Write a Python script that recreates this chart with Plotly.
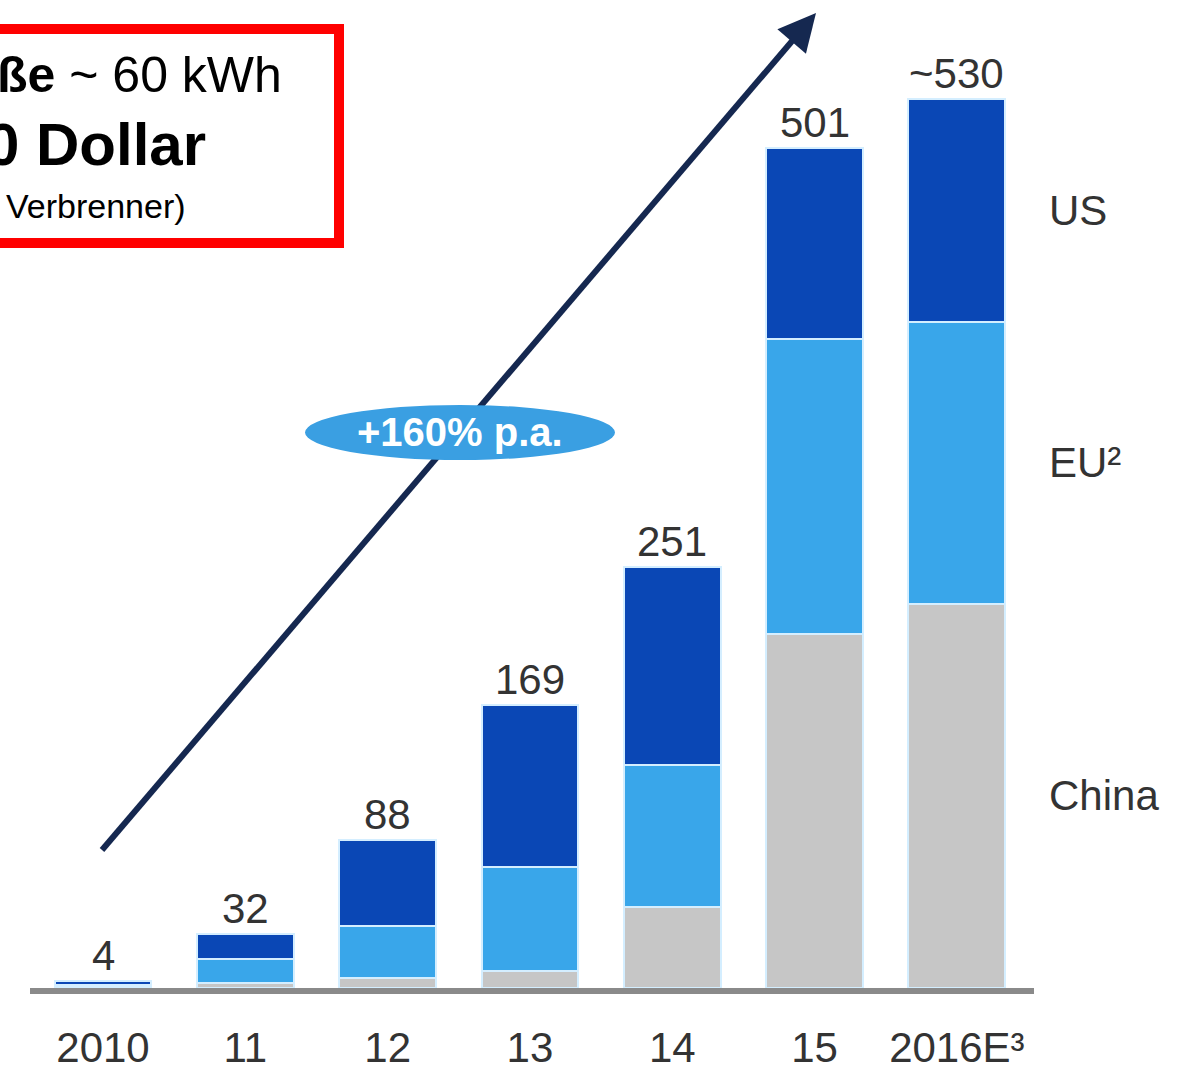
import plotly.graph_objects as go

categories = ["2010", "11", "12", "13", "14", "15", "2016E"]
tick_labels = ["2010", "11", "12", "13", "14", "15", "2016E³"]
china = [1, 3, 6, 10, 48, 211, 229]
eu = [1, 14, 31, 62, 85, 176, 168]
us = [2, 15, 51, 97, 118, 114, 133]
totals = [4, 32, 88, 169, 251, 501, 530]
total_labels = ["4", "32", "88", "169", "251", "501", "~530"]
series_names = ["China", "EU²", "US"]
growth_label = "+160% p.a."

FONT = "Liberation Sans, Arial, sans-serif"
C_US = "#0a47b5"
C_EU = "#39a6ea"
C_CN = "#c6c6c6"
SEP = "#d4eeff"
ARROW = "#152850"

# layout geometry (pixels)
ML, MR, MT, MB = 30, 151, 0, 84
W, H = 1185, 1072
PW, PH = W - ML - MR, H - MT - MB
XR = [-0.513, 6.542]
YR = [0, 589]


def px2x(px):
    return XR[0] + (px - ML) / PW * (XR[1] - XR[0])


def py2y(py):
    return YR[0] + (MT + PH - py) / PH * (YR[1] - YR[0])


idx = list(range(len(categories)))

fig = go.Figure()
for name, vals, col in [(series_names[0], china, C_CN), (series_names[1], eu, C_EU), (series_names[2], us, C_US)]:
    fig.add_trace(go.Bar(x=idx, y=vals, name=name, marker_color=col,
                         marker_line_color=SEP, marker_line_width=2))

# total labels above bars
for i, t, lab in zip(idx, totals, total_labels):
    fig.add_annotation(x=i, y=t, text=lab, showarrow=False, yanchor="bottom", yshift=0,
                       xanchor="center",
                       font=dict(size=42, color="#333333", family=FONT))

# series labels at right of last bar
last = len(categories) - 1
mids = [china[last] / 2, china[last] + eu[last] / 2, china[last] + eu[last] + us[last] / 2]
for name, m in zip(series_names, mids):
    fig.add_annotation(xref="paper", x=1.013, y=m, text=name, showarrow=False,
                       xanchor="left", yanchor="middle",
                       font=dict(size=42, color="#333333", family=FONT))

# growth arrow: shaft as a shape (below the ellipse), head as a short annotation arrow
tail = (102, 850)
tip = (816, 13)
dx, dy = tip[0] - tail[0], tip[1] - tail[1]
L = (dx ** 2 + dy ** 2) ** 0.5
hl = 30
base = (tip[0] - dx * hl / L, tip[1] - dy * hl / L)
fig.add_shape(type="line", xref="x", yref="y",
              x0=px2x(tail[0]), y0=py2y(tail[1]), x1=px2x(base[0] + dx * 4 / L), y1=py2y(base[1] + dy * 4 / L),
              line=dict(color=ARROW, width=6))
fig.add_annotation(x=px2x(tip[0]), y=py2y(tip[1]), ax=-dx * hl / L, ay=-dy * hl / L, text=" ",
                   showarrow=True, arrowhead=2, arrowsize=1.25, arrowwidth=6, arrowcolor=ARROW,
                   standoff=0, startstandoff=0)

# ellipse with growth label (drawn over the arrow shaft)
fig.add_shape(type="circle", xref="paper", yref="paper",
              x0=(305 - ML) / PW, x1=(615 - ML) / PW, y0=(988 - 460) / PH, y1=(988 - 405) / PH,
              fillcolor="#3a9fe2", line_width=0, layer="above")
fig.add_annotation(xref="paper", yref="paper", x=(460 - ML) / PW, y=(988 - 432) / PH,
                   text="<b>" + growth_label + "</b>",
                   showarrow=False, xanchor="center", yanchor="middle",
                   font=dict(size=40, color="white", family=FONT))

# red info box (partially cut off at the left)
fig.add_shape(type="rect", xref="paper", yref="paper",
              x0=(-20 - ML) / PW, x1=(339 - ML) / PW, y0=(988 - 243) / PH, y1=(988 - 29) / PH,
              line=dict(color="#ff0000", width=10), fillcolor="rgba(0,0,0,0)")
fig.add_annotation(xref="paper", yref="paper", x=(284 - ML) / PW, y=(988 - 75) / PH,
                   xanchor="right", yanchor="middle",
                   text="<b>ße</b> ~ 60 kWh", showarrow=False,
                   font=dict(size=50, color="#000000", family=FONT))
fig.add_annotation(xref="paper", yref="paper", x=(208 - ML) / PW, y=(988 - 145) / PH,
                   xanchor="right", yanchor="middle",
                   text="<b>0 Dollar</b>", showarrow=False,
                   font=dict(size=60, color="#000000", family=FONT))
fig.add_annotation(xref="paper", yref="paper", x=(188 - ML) / PW, y=(988 - 206) / PH,
                   xanchor="right", yanchor="middle",
                   text="Verbrenner)", showarrow=False,
                   font=dict(size=34, color="#000000", family=FONT))

fig.update_layout(
    width=W, height=H,
    margin=dict(l=ML, r=MR, t=MT, b=MB),
    barmode="stack", bargap=0.32,
    showlegend=False,
    plot_bgcolor="white", paper_bgcolor="white",
    font=dict(family=FONT, color="#333333"),
    xaxis=dict(range=XR, tickvals=idx, ticktext=tick_labels,
               showline=True, linecolor="#8a8a8a", linewidth=6, showgrid=False, zeroline=False,
               ticks="outside", ticklen=18, tickcolor="rgba(0,0,0,0)",
               tickfont=dict(size=42, color="#333333", family=FONT)),
    yaxis=dict(range=YR, visible=False, showgrid=False),
)

fig.write_html("out.html", config={"displayModeBar": False},
               post_script="document.body.style.margin='0';")
